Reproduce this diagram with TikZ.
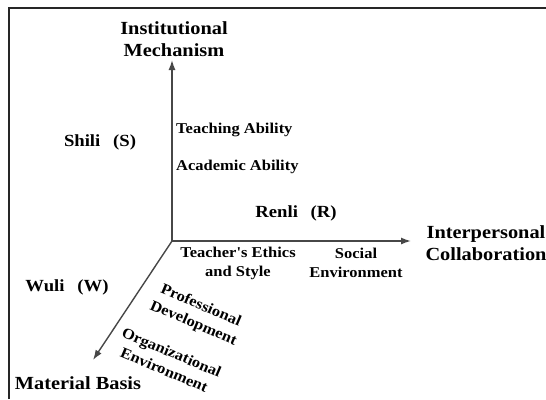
\documentclass[tikz,border=0pt]{standalone}
\usepackage{fontspec}
\setmainfont{Liberation Serif}[FakeStretch=1.1, Ligatures=TeXOff]
\usetikzlibrary{arrows.meta}
\tikzset{
  axis/.style={draw=black!72, line width=1.4pt, -{Latex[length=10pt,width=7pt]}},
  biglabel/.style={font=\fontsize{18.5}{22}\selectfont\bfseries, align=center, inner sep=0pt},
  midlabel/.style={font=\fontsize{17}{20}\selectfont\bfseries, inner sep=0pt},
  smalllabel/.style={font=\fontsize{15}{19}\selectfont\bfseries, align=center, inner sep=0pt},
}
\newcommand{\wgap}{\hspace{0.75em}}
\begin{document}
\begin{tikzpicture}[x=1pt, y=-1pt]
\useasboundingbox (0,0) rectangle (546,399);
% frame on the top and left sides
\draw[line width=2pt, black!85] (9,399) -- (9,8) -- (546,8);

% the three axes from a common origin
\coordinate (o) at (172,241);
\coordinate (up) at (172,60);
\coordinate (right) at (411,241);
\coordinate (down) at (93,360);
\draw[axis] (o) -- (up);
\draw[axis] (o) -- (right);
\draw[axis] (o) -- (down);

% axis titles
\node[biglabel] (inst) at (174,39) {Institutional\\Mechanism};
\node[biglabel] (inter) at (486,243) {Interpersonal\\Collaboration};
\node[biglabel] (mat) at (78,383) {Material Basis};

% the three forces
\node[midlabel] (shili) at (100,142) {Shili\wgap(S)};
\node[midlabel] (renli) at (296,213) {Renli\wgap(R)};
\node[midlabel] (wuli) at (67,287) {Wuli\wgap(W)};

% factors along the axes
\node[smalllabel, anchor=west] (teach) at (176,130) {Teaching Ability};
\node[smalllabel, anchor=west] (acad) at (176,167) {Academic Ability};
\node[smalllabel] (ethics) at (238,263) {Teacher's Ethics\\and Style};
\node[smalllabel] (social) at (356,263) {Social\\Environment};
\node[smalllabel, rotate=-23] (prof) at (197,315) {Professional\\Development};
\node[smalllabel, rotate=-23] (org) at (168,361) {Organizational\\Environment};
\end{tikzpicture}
\end{document}
